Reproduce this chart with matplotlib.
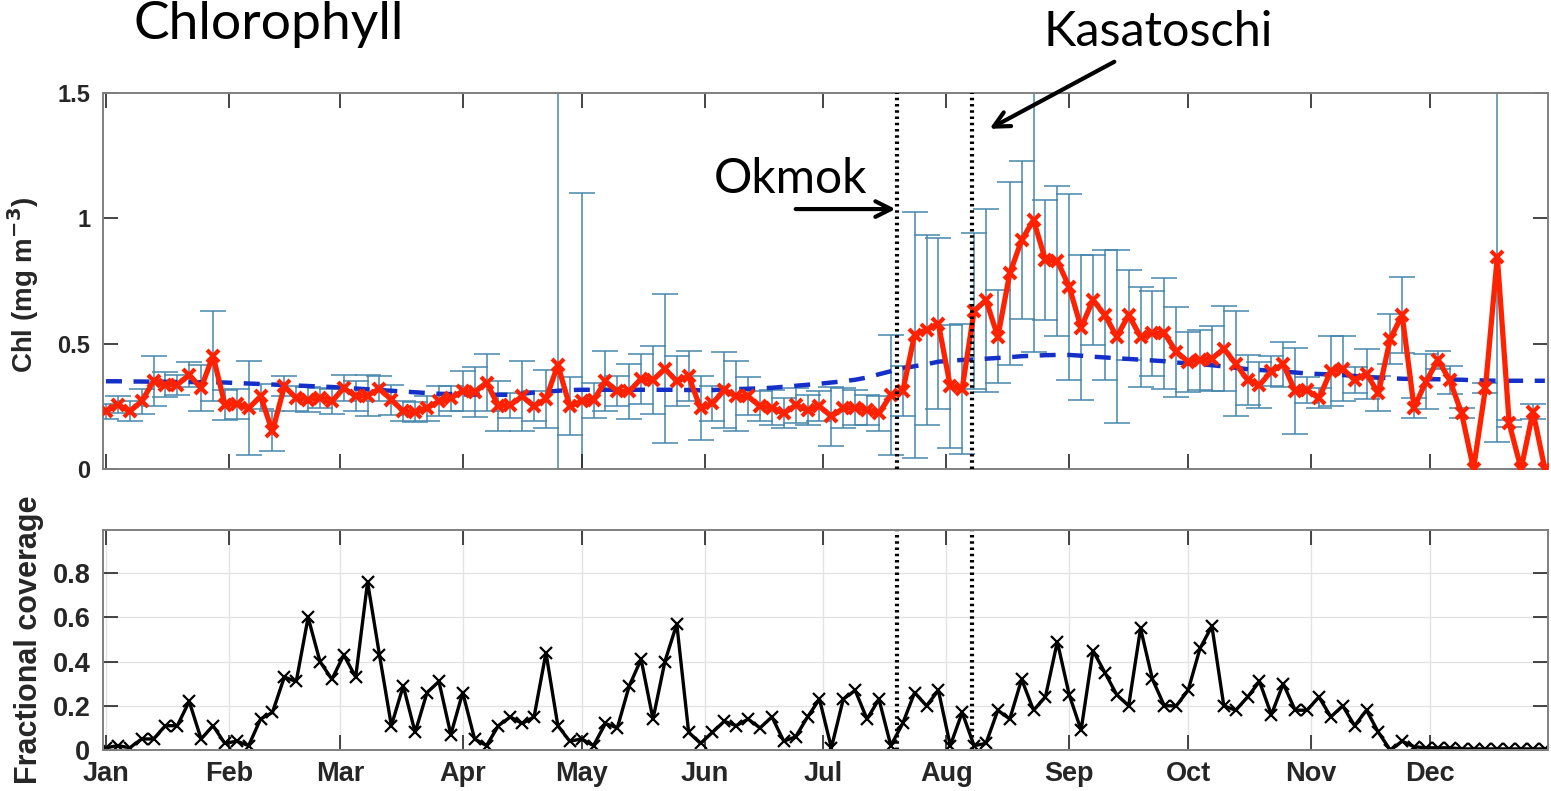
import numpy as np
import matplotlib
matplotlib.use('Agg')
import matplotlib.pyplot as plt

# 3-day composites, day of year 1, 4, 7, ... 364
days = np.arange(1, 365, 3)

chl = [0.230, 0.257, 0.230, 0.270, 0.350, 0.336, 0.336, 0.376, 0.323, 0.452,
       0.257, 0.260, 0.243, 0.290, 0.150, 0.330, 0.283, 0.277, 0.283, 0.270,
       0.323, 0.290, 0.293, 0.320, 0.277, 0.230, 0.226, 0.243, 0.270, 0.283,
       0.310, 0.306, 0.345, 0.252, 0.255, 0.290, 0.250, 0.280, 0.415, 0.250,
       0.270, 0.275, 0.350, 0.310, 0.310, 0.360, 0.355, 0.400, 0.350, 0.370,
       0.242, 0.262, 0.315, 0.290, 0.290, 0.250, 0.245, 0.222, 0.255, 0.235,
       0.250, 0.210, 0.242, 0.245, 0.235, 0.222, 0.295, 0.310, 0.535, 0.555,
       0.580, 0.330, 0.320, 0.630, 0.674, 0.528, 0.780, 0.913, 0.993, 0.834,
       0.830, 0.727, 0.564, 0.674, 0.614, 0.528, 0.614, 0.528, 0.541, 0.541,
       0.468, 0.428, 0.435, 0.440, 0.480, 0.420, 0.355, 0.335, 0.390, 0.418,
       0.311, 0.315, 0.282, 0.391, 0.400, 0.355, 0.380, 0.302, 0.520, 0.614,
       0.245, 0.348, 0.435, 0.355, 0.222, 0.000, 0.322, 0.847, 0.182, 0.000,
       0.229, 0.000]

chl_std = [0.030, 0.035, 0.040, 0.050, 0.100, 0.050, 0.040, 0.050, 0.090, 0.180,
           0.060, 0.060, 0.187, 0.050, 0.080, 0.040, 0.050, 0.050, 0.040, 0.050,
           0.050, 0.060, 0.080, 0.050, 0.060, 0.040, 0.040, 0.050, 0.060, 0.050,
           0.080, 0.100, 0.115, 0.100, 0.050, 0.140, 0.060, 0.115, 1.200, 0.115,
           0.830, 0.070, 0.120, 0.060, 0.110, 0.100, 0.135, 0.297, 0.100, 0.100,
           0.127, 0.070, 0.150, 0.140, 0.075, 0.060, 0.070, 0.060, 0.070, 0.060,
           0.060, 0.117, 0.080, 0.070, 0.060, 0.070, 0.240, 0.100, 0.490, 0.380,
           0.340, 0.245, 0.260, 0.310, 0.365, 0.186, 0.365, 0.315, 0.525, 0.240,
           0.300, 0.370, 0.290, 0.180, 0.260, 0.345, 0.180, 0.200, 0.170, 0.220,
           0.180, 0.120, 0.120, 0.130, 0.170, 0.210, 0.100, 0.090, 0.060, 0.090,
           0.170, 0.050, 0.040, 0.140, 0.130, 0.050, 0.100, 0.070, 0.100, 0.150,
           0.040, 0.110, 0.035, 0.055, 0.020, 0.000, 0.020, 0.740, 0.015, 0.000,
           0.030, 0.000]

# multi-year climatology
chl_clim = [0.350, 0.350, 0.349, 0.349, 0.348, 0.348, 0.347, 0.347, 0.346, 0.346,
            0.345, 0.343, 0.341, 0.339, 0.337, 0.335, 0.333, 0.331, 0.329, 0.327,
            0.324, 0.321, 0.318, 0.315, 0.312, 0.309, 0.306, 0.303, 0.300, 0.299,
            0.298, 0.297, 0.297, 0.296, 0.296, 0.300, 0.305, 0.308, 0.312, 0.315,
            0.316, 0.316, 0.316, 0.316, 0.316, 0.316, 0.316, 0.316, 0.316, 0.315,
            0.314, 0.315, 0.317, 0.319, 0.320, 0.322, 0.324, 0.328, 0.332, 0.336,
            0.340, 0.345, 0.350, 0.356, 0.365, 0.378, 0.390, 0.402, 0.410, 0.418,
            0.428, 0.432, 0.435, 0.437, 0.440, 0.443, 0.446, 0.450, 0.452, 0.454,
            0.455, 0.455, 0.452, 0.448, 0.445, 0.442, 0.439, 0.436, 0.433, 0.430,
            0.425, 0.421, 0.418, 0.414, 0.409, 0.404, 0.398, 0.395, 0.392, 0.389,
            0.385, 0.381, 0.379, 0.377, 0.375, 0.371, 0.367, 0.364, 0.362, 0.360,
            0.359, 0.358, 0.358, 0.357, 0.356, 0.354, 0.353, 0.352, 0.352, 0.352,
            0.352, 0.352]

coverage = [0.01, 0.02, 0.01, 0.05, 0.05, 0.11, 0.11, 0.22, 0.05, 0.11,
            0.03, 0.04, 0.02, 0.14, 0.17, 0.33, 0.31, 0.60, 0.40, 0.32,
            0.43, 0.33, 0.76, 0.43, 0.11, 0.29, 0.08, 0.26, 0.31, 0.07,
            0.26, 0.05, 0.02, 0.11, 0.15, 0.12, 0.15, 0.44, 0.11, 0.04,
            0.05, 0.02, 0.12, 0.10, 0.29, 0.41, 0.14, 0.40, 0.57, 0.08,
            0.03, 0.08, 0.13, 0.11, 0.14, 0.10, 0.15, 0.04, 0.06, 0.15,
            0.23, 0.01, 0.23, 0.27, 0.14, 0.23, 0.02, 0.12, 0.26, 0.20,
            0.27, 0.02, 0.17, 0.02, 0.03, 0.18, 0.14, 0.32, 0.18, 0.24,
            0.49, 0.25, 0.09, 0.45, 0.35, 0.25, 0.20, 0.55, 0.32, 0.20,
            0.20, 0.27, 0.46, 0.56, 0.20, 0.18, 0.24, 0.31, 0.16, 0.30,
            0.18, 0.18, 0.24, 0.15, 0.20, 0.11, 0.18, 0.08, 0.00, 0.04,
            0.015, 0.01, 0.01, 0.01, 0.005, 0.005, 0.005, 0.005, 0.005, 0.005,
            0.005, 0.005]

month_labels = ['Jan', 'Feb', 'Mar', 'Apr', 'May', 'Jun',
                'Jul', 'Aug', 'Sep', 'Oct', 'Nov', 'Dec']
month_days = [1, 32, 60, 91, 121, 152, 182, 213, 244, 274, 305, 335]

OKMOK_DAY = 200.6
KASATOCHI_DAY = 219.6

AXIS_GREY = '#808080'
TEXT_DARK = '#262626'
plt.rcParams['font.family'] = ['Liberation Sans', 'DejaVu Sans']


def style_axes(ax, fontsize):
	for s in ax.spines.values():
		s.set_color(AXIS_GREY)
		s.set_linewidth(1.4)
	ax.tick_params(direction='in', length=11, width=1.2, color=TEXT_DARK,
	               top=True, right=True, labelsize=fontsize, labelcolor=TEXT_DARK)
	ax.tick_params(axis='y', pad=9)
	for lab in ax.get_xticklabels() + ax.get_yticklabels():
		lab.set_fontweight('bold')
	ax.set_xlim(0.25, 364.8)
	ax.set_xticks(month_days)


def main():
	fig = plt.figure(figsize=(15.51, 7.91), dpi=100)

	# chlorophyll panel
	ax1 = fig.add_axes([0.0664, 0.4071, 0.9317, 0.4753])
	ax1.errorbar(days, chl, yerr=chl_std, fmt='none', ecolor='#4786ab',
	             elinewidth=1.1, capsize=9.5, capthick=1.1, zorder=1)
	ax1.plot(days, chl_clim, color='#1530c8', lw=3.2, ls=(0, (3.6, 2.6)), zorder=2)
	ax1.plot(days, chl, color='#ff2200', lw=3.8, marker='x', ms=9, mew=3, zorder=3)
	for d in (OKMOK_DAY, KASATOCHI_DAY):
		ax1.axvline(d, color='black', lw=3.0, ls=(0, (0.6, 0.9)), zorder=4)
	ax1.set_ylim(0, 1.5)
	ax1.set_yticks([0, 0.5, 1, 1.5])
	ax1.set_yticklabels(['0', '0.5', '1', '1.5'])
	ax1.set_xticklabels([])
	style_axes(ax1, 17)
	ax1.set_ylabel('Chl (mg m$^{\\mathbf{-3}}$)', fontsize=20, fontweight='bold',
	               color=TEXT_DARK)
	ax1.yaxis.set_label_coords(-0.043, 0.49)

	ax1.annotate('', xy=(OKMOK_DAY + 0.3, 1.037), xytext=(174.3, 1.037),
	             arrowprops=dict(arrowstyle='->', lw=3, color='black',
	                             mutation_scale=28), annotation_clip=False)
	ax1.text(173.6, 1.155, 'Okmok', fontsize=34.5, family='Lato',
	         ha='center', va='center', color='black')
	ax1.annotate('', xy=(223.3, 1.352), xytext=(256.0, 1.63),
	             arrowprops=dict(arrowstyle='->', lw=3, color='black',
	                             mutation_scale=28), annotation_clip=False)
	fig.text(1158 / 1551, 1 - 32 / 791, 'Kasatoschi', fontsize=35, family='Lato',
	         ha='center', va='center', color='black')
	fig.text(133 / 1551, 1 - 25 / 791, 'Chlorophyll', fontsize=38.5, family='Lato',
	         ha='left', va='center', color='black')

	# fractional coverage panel
	ax2 = fig.add_axes([0.0664, 0.0518, 0.9317, 0.2781])
	ax2.grid(True, color='#e3e3e3', lw=1.0)
	ax2.set_axisbelow(True)
	ax2.plot(days, coverage, color='black', lw=2.4, marker='x', ms=8, mew=1.6)
	for d in (OKMOK_DAY, KASATOCHI_DAY):
		ax2.axvline(d, color='black', lw=3.0, ls=(0, (0.6, 0.9)))
	ax2.set_ylim(0, 0.995)
	ax2.set_yticks([0, 0.2, 0.4, 0.6, 0.8])
	ax2.set_yticklabels(['0', '0.2', '0.4', '0.6', '0.8'])
	ax2.set_xticklabels(month_labels)
	style_axes(ax2, 19.5)
	ax2.tick_params(axis='x', pad=8)
	ax2.set_ylabel('Fractional coverage', fontsize=22, fontweight='bold',
	               color=TEXT_DARK)
	ax2.yaxis.set_label_coords(-0.041, 0.5)

	fig.savefig('out.png', dpi=100)


if __name__ == '__main__':
	main()
